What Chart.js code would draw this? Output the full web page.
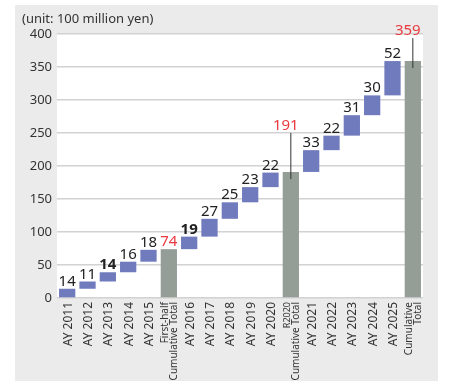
<!DOCTYPE html>
<html>
<head>
<meta charset="utf-8">
<script src="https://cdn.jsdelivr.net/npm/chart.js@4.4.0/dist/chart.umd.min.js"></script>
<style>
html, body { margin: 0; padding: 0; background: #fff; }
</style>
</head>
<body>
<canvas id="waterfall" width="452" height="381"></canvas>
<script>
// categories along the x axis
let categories = [
    'AY 2011', 'AY 2012', 'AY 2013', 'AY 2014', 'AY 2015',
    ['First-half', 'Cumulative Total'],
    'AY 2016', 'AY 2017', 'AY 2018', 'AY 2019', 'AY 2020',
    ['R2020', 'Cumulative Total'],
    'AY 2021', 'AY 2022', 'AY 2023', 'AY 2024', 'AY 2025',
    ['Cumulative', 'Total']
];
// yearly amounts (null = a cumulative total column)
let yearly = [14, 11, 14, 16, 18, null, 19, 27, 25, 23, 22, null, 33, 22, 31, 30, 52, null];
// cumulative totals, in order
let totals = [74, 191, 359];
let yTicks = [0, 50, 100, 150, 200, 250, 300, 350, 400];

// build floating bars from the values
let bars = [];
let barLabels = [];
let running = 0, t = 0;
for (let i = 0; i < yearly.length; i++) {
    if (yearly[i] === null) {
        running = totals[t++];
        bars.push([0, running]);
        barLabels.push(running);
    } else {
        bars.push([running, running + yearly[i]]);
        barLabels.push(yearly[i]);
        running += yearly[i];
    }
}

let blue = '#6f7bbd';
let grey = '#949e96';
let red = '#ea3a3f';
let boldIdx = [2, 6];
// labels raised above the bar with a leader line: index -> lift in px
let lifted = { 11: 42, 17: 26 };

let frame = {
    id: 'frame',
    beforeDraw(chart) {
        let c = chart.ctx, a = chart.chartArea;
        c.save();
        c.fillStyle = '#fff';
        c.fillRect(0, 0, chart.width, chart.height);
        c.fillStyle = '#ebebeb';
        c.fillRect(15, 5, 423, 376);
        c.fillStyle = '#fff';
        c.fillRect(a.left, a.top, a.right - a.left, a.bottom - a.top);
        c.fillStyle = '#333';
        c.font = '13px "Noto Sans"';
        c.textBaseline = 'alphabetic';
        c.fillText('(unit: 100 million yen)', 22, 23);
        c.restore();
    },
    afterDraw(chart) {
        // vertical category labels, multi-line ones centred on the tick
        let c = chart.ctx, xs = chart.scales.x;
        c.save();
        c.fillStyle = '#333';
        c.textAlign = 'right';
        c.textBaseline = 'middle';
        categories.forEach((lab, i) => {
            let x = xs.getPixelForTick(i);
            let lines = Array.isArray(lab) ? lab : [lab];
            let lh = lines.length > 1 ? 9 : 12;
            c.save();
            c.translate(x, chart.chartArea.bottom + 4);
            c.rotate(-Math.PI / 2);
            lines.forEach((ln, k) => {
                let size = lines.length > 1 ? (ln === 'R2020' ? 9 : 10) : 12;
                c.font = size + 'px "Noto Sans"';
                c.fillText(ln, 0, (k - (lines.length - 1) / 2) * lh + 1);
            });
            c.restore();
        });
        c.restore();
    },
    afterDatasetsDraw(chart) {
        let c = chart.ctx;
        let meta = chart.getDatasetMeta(0);
        c.save();
        c.textAlign = 'center';
        c.textBaseline = 'alphabetic';
        meta.data.forEach((el, i) => {
            let isTotal = yearly[i] === null;
            c.fillStyle = isTotal ? red : '#222';
            c.font = (boldIdx.includes(i) ? 'bold ' : '') + '15px "Noto Sans"';
            let top = el.y;
            if (lifted[i]) {
                let lift = lifted[i];
                c.strokeStyle = '#333';
                c.lineWidth = 1;
                c.beginPath();
                c.moveTo(el.x, top + 7);
                c.lineTo(el.x, top - lift + 3);
                c.stroke();
                c.fillText(barLabels[i], el.x - 5, top - lift);
            } else {
                c.fillText(barLabels[i], el.x, top - 3);
            }
        });
        c.restore();
    }
};

let ctx = document.getElementById('waterfall').getContext('2d');

let chart = new Chart(ctx, {
    type: 'bar',
    data: {
        labels: categories,
        datasets: [{
            data: bars,
            backgroundColor: yearly.map(v => v === null ? grey : blue),
            borderWidth: 0,
            barPercentage: 0.8,
            categoryPercentage: 1
        }]
    },
    options: {
        responsive: false,
        animation: false,
        devicePixelRatio: 1,
        layout: { padding: { left: 0, right: 29, top: 34, bottom: 0 } },
        plugins: {
            legend: { display: false },
            tooltip: { enabled: false }
        },
        scales: {
            x: {
                grid: { display: false },
                border: { display: false },
                ticks: { display: false },
                afterFit(scale) { scale.height = 83; }
            },
            y: {
                min: 0,
                max: 400,
                afterBuildTicks(scale) { scale.ticks = yTicks.map(v => ({ value: v })); },
                grid: { color: '#d2d2d2', lineWidth: 1.5, drawTicks: false },
                border: { display: false },
                ticks: {
                    padding: 5,
                    color: '#333',
                    font: { family: 'Noto Sans', size: 13 }
                },
                afterFit(scale) { scale.width = 57; }
            }
        }
    },
    plugins: [frame]
});
</script>
</body>
</html>
